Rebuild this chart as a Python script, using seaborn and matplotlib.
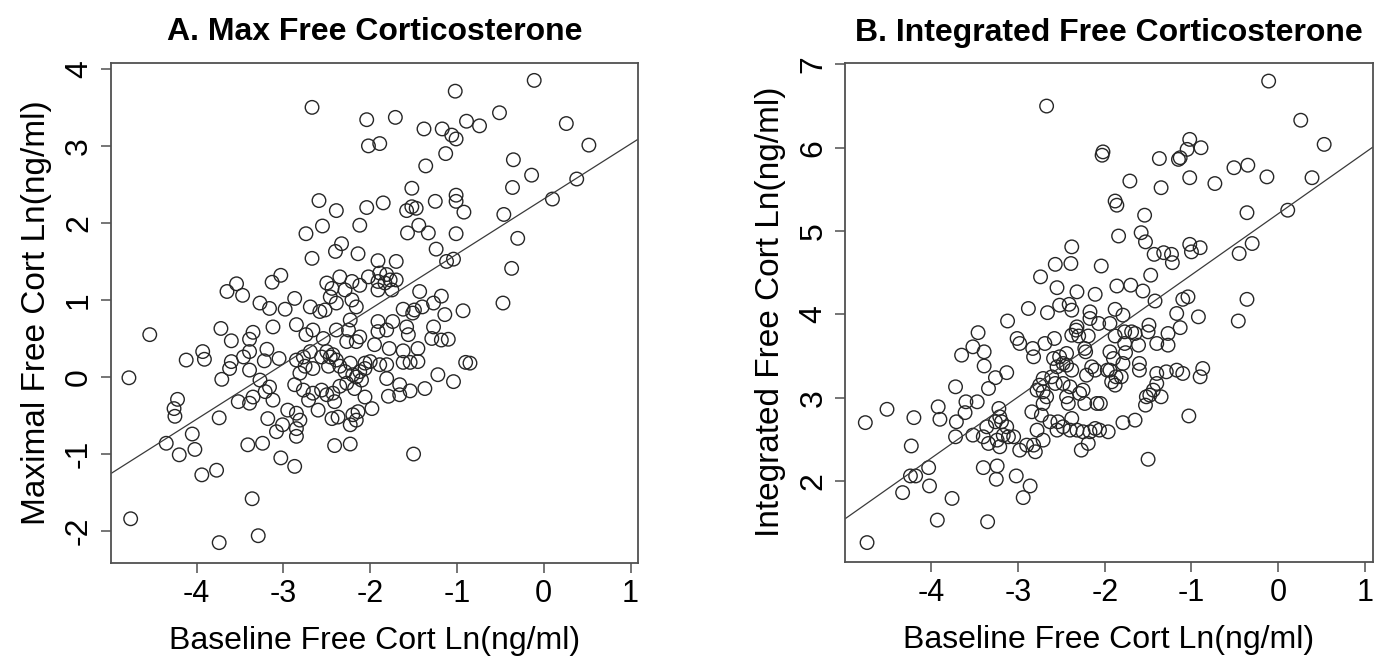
import numpy as np
import pandas as pd
import seaborn as sns
from matplotlib import pyplot as plt

# Panel A: baseline vs maximal free corticosterone, Ln(ng/ml)
max_x = [-2.67, -2.04, -2.02, -1.89, -2.59, -2.39, -2.04,
         -3.03, -3.13, -3.54, -3.65, -3.47, -3.27, -3.16, -2.98,
         -0.11, -1.02, -1.71, -1.38, -1.17, -1.06, -1.01, -0.89, -0.74, -0.51, 0.26, 0.52,
         -1.13, -1.36, -0.35, -0.14, 0.38, 0.10, -0.36, -0.46, -0.30, -0.37, -0.47,
         -1.52, -1.85, -1.58, -1.52, -1.47, -1.25, -1.01, -1.01, -0.92,
         -4.54, -4.78, -4.76, -3.74, -3.29, -3.36, -3.94, -3.77, -4.35, -4.20, -4.02, -4.05,
         -4.22, -4.26, -4.25, -3.74, -4.12, -3.93, -3.91, -3.72, -3.60, -3.71, -3.62, -3.60,
         -3.52, -3.39, -3.39, -3.46, -3.39, -3.35, -3.19, -3.22, -3.05, -3.12, -3.27, -3.16,
         -3.21, -3.12, -3.35, -3.39, -3.18, -3.08, -3.41, -3.24, -3.03, -2.87, -2.95, -3.01, -2.85,
         -1.50,
         -2.74, -2.55, -2.12, -1.57, -1.44, -1.33, -1.01, -1.24, -2.40, -2.33, -2.67, -2.14,
         -1.91, -1.70, -1.12, -1.04,
         -1.89, -1.81, -1.77, -1.91, -1.83, -1.70, -1.75, -1.91,
         -2.50, -2.35, -2.21, -2.02, -2.12,
         -2.44, -2.46, -2.29, -2.21, -2.16, -2.39, -2.52,
         -2.87, -2.69, -2.58,
         -1.43, -1.18, -1.49, -1.40, -1.51, -1.27, -1.62, -1.14, -0.93,
         -2.85, -2.74, -2.66, -2.54, -2.39, -2.23, -2.25,
         -1.91, -1.74, -1.81, -1.91, -1.58, -1.56, -1.27, -1.29, -1.18, -1.10,
         -2.27, -2.16, -2.12, -1.95, -1.78,
         -1.62, -1.45, -1.45, -1.54, -1.62, -0.90, -0.85,
         -1.22, -1.04, -1.37, -1.54, -1.66, -1.66, -1.79,
         -1.81, -1.89, -1.81, -2.00, -2.06, -2.16,
         -2.85, -2.77, -2.69, -2.75, -2.81, -2.66, -2.56, -2.50, -2.46, -2.43, -2.39, -2.48,
         -2.35, -2.29, -2.23, -2.20, -2.12, -2.06, -2.27, -2.18, -2.10, -2.87, -2.77, -2.71,
         -2.66, -2.56, -2.50, -2.43, -2.35, -2.41, -2.60, -2.85, -2.81, -2.85, -2.44, -2.37,
         -2.20, -2.14, -2.16, -2.23, -1.98, -2.06, -2.41, -2.23]
max_y = [3.50, 3.34, 3.00, 3.03, 2.29, 2.16, 2.20,
         1.32, 1.23, 1.21, 1.11, 1.06, 0.96, 0.89, 0.88,
         3.85, 3.71, 3.37, 3.22, 3.22, 3.14, 3.09, 3.32, 3.26, 3.43, 3.29, 3.01,
         2.90, 2.74, 2.82, 2.62, 2.57, 2.31, 2.46, 2.11, 1.80, 1.41, 0.96,
         2.45, 2.26, 2.16, 2.21, 2.19, 2.28, 2.36, 2.28, 2.14,
         0.55, -0.01, -1.84, -2.15, -2.06, -1.58, -1.27, -1.21, -0.86, -1.01, -0.94, -0.74,
         -0.29, -0.41, -0.51, -0.53, 0.22, 0.33, 0.23, 0.63, 0.47, -0.03, 0.11, 0.20,
         -0.32, 0.09, 0.33, 0.26, 0.49, 0.58, 0.36, 0.21, 0.24, 0.65, -0.04, -0.13,
         -0.19, -0.30, -0.26, -0.34, -0.54, -0.71, -0.88, -0.86, -1.05, -1.16, -0.43, -0.62, -0.77,
         -1.00,
         1.86, 1.96, 1.97, 1.87, 1.97, 1.87, 1.86, 1.66, 1.63, 1.73, 1.54, 1.60,
         1.51, 1.50, 1.50, 1.53,
         1.35, 1.33, 1.26, 1.24, 1.22, 1.26, 1.13, 1.13,
         1.22, 1.30, 1.24, 1.30, 1.19,
         1.15, 1.04, 1.13, 1.00, 0.91, 0.96, 0.87,
         1.02, 0.91, 0.85,
         1.11, 1.05, 0.87, 0.91, 0.83, 0.96, 0.88, 0.81, 0.86,
         0.68, 0.55, 0.61, 0.50, 0.61, 0.74, 0.61,
         0.72, 0.72, 0.61, 0.59, 0.65, 0.55, 0.65, 0.50, 0.48, 0.49,
         0.46, 0.46, 0.52, 0.42, 0.37,
         0.34, 0.37, 0.20, 0.19, 0.19, 0.19, 0.18,
         0.03, -0.06, -0.15, -0.18, -0.10, -0.23, -0.25,
         -0.02, 0.16, 0.16, 0.20, 0.11, 0.00,
         0.22, 0.26, 0.33, 0.14, 0.05, 0.11, 0.26, 0.33, 0.26, 0.29, 0.22, 0.14,
         0.14, 0.07, 0.18, 0.03, 0.07, 0.18, -0.08, -0.15, -0.04, -0.10, -0.17, -0.30,
         -0.21, -0.17, -0.23, -0.21, -0.12, -0.32, -0.43, -0.47, -0.56, -0.67, -0.54, -0.52,
         -0.49, -0.45, -0.56, -0.62, -0.41, -0.26, -0.89, -0.87]

# Panel B: baseline vs integrated free corticosterone, Ln(ng/ml)
int_x = [-2.67, -2.02, -2.03,
         -0.11, 0.26, 0.53, -1.02, -1.05, -0.89, -1.15, -1.13, -1.37, -1.71, -1.35, -1.02,
         -0.73, -0.51, -0.35, -0.13, 0.39, -1.88, -1.86, -1.54, -0.36, 0.11, -0.30, -0.45, -0.36,
         -0.46,
         -1.84, -1.58, -1.53, -1.43, -1.32, -1.23, -1.22, -1.02, -0.90, -1.00, -2.38, -2.57,
         -2.39, -2.74, -2.04, -2.55, -2.32, -2.11, -1.47, -1.86, -1.70, -1.56, -1.42, -1.10,
         -1.04, -2.88, -2.66, -2.52, -2.41, -2.38, -2.17, -2.17, -1.88, -1.79, -2.07, -1.94,
         -2.32, -2.33, -2.30, -2.38, -2.19, -1.77, -1.69, -1.65, -1.88, -1.49, -1.50, -3.01,
         -2.98, -2.83, -2.82, -2.69, -2.58, -2.23, -2.22, -1.94, -1.90, -1.77, -1.76, -1.61,
         -1.40, -1.27, -1.27, -1.13, -1.17, -0.92,
         -2.59, -2.52, -2.44, -2.48, -2.55, -2.44, -2.38, -2.71, -2.61, -2.75, -2.78, -2.71,
         -2.67, -2.57, -2.48, -2.40, -2.84, -2.71, -2.44, -2.29, -2.25, -2.23, -2.09, -2.05,
         -2.21, -2.11, -2.15, -1.97, -1.94, -1.87, -1.92, -1.88, -1.81, -1.79, -1.60, -1.60,
         -1.40, -1.29, -1.17, -1.10, -0.87, -0.90, -1.40, -1.44, -1.48, -1.52, -1.35, -1.53,
         -1.79, -1.65, -1.03, -1.50,
         -3.05, -2.98, -2.90, -2.82, -2.80, -2.71, -2.78, -2.63, -2.54, -2.48, -2.38, -2.40,
         -2.32, -2.25, -2.17, -2.11, -2.06, -1.96, -2.27, -2.19, -2.55, -2.42, -2.73,
         -3.12, -3.46, -3.52, -3.39, -3.65, -3.39, -3.26, -3.13, -3.34, -3.72, -3.60, -3.47,
         -3.61, -3.71, -3.72, -3.92, -3.90, -4.20, -4.51, -4.76, -4.23, -4.03, -4.24, -4.18,
         -4.33, -4.02, -3.76, -3.93, -3.35, -4.74, -3.40, -3.24, -3.25, -3.02, -2.86, -2.94,
         -3.52, -3.36, -3.40, -3.34, -3.22, -3.21, -3.26, -3.19, -3.13, -3.17, -3.11, -3.24,
         -3.21]
int_y = [6.50, 5.95, 5.91,
         6.80, 6.33, 6.04, 6.10, 5.98, 6.00, 5.86, 5.88, 5.87, 5.60, 5.52, 5.64,
         5.57, 5.76, 5.79, 5.65, 5.64, 5.36, 5.31, 5.19, 5.22, 5.25, 4.85, 4.73, 4.18,
         3.92,
         4.94, 4.98, 4.87, 4.72, 4.74, 4.72, 4.62, 4.84, 4.80, 4.75, 4.81, 4.60,
         4.61, 4.45, 4.58, 4.32, 4.27, 4.24, 4.47, 4.34, 4.35, 4.28, 4.16, 4.18,
         4.21, 4.07, 4.02, 4.11, 4.12, 4.05, 4.03, 3.95, 4.06, 3.99, 3.89, 3.89,
         3.85, 3.81, 3.74, 3.75, 3.74, 3.79, 3.79, 3.77, 3.74, 3.87, 3.79, 3.71,
         3.65, 3.59, 3.49, 3.65, 3.71, 3.59, 3.55, 3.55, 3.47, 3.65, 3.54, 3.63,
         3.65, 3.63, 3.77, 3.84, 4.01, 3.97,
         3.47, 3.49, 3.53, 3.41, 3.37, 3.39, 3.33, 3.23, 3.25, 3.15, 3.09, 3.07,
         3.01, 3.17, 3.17, 3.13, 2.83, 2.93, 3.01, 3.05, 3.09, 2.93, 2.93, 2.93,
         3.27, 3.33, 3.37, 3.33, 3.33, 3.25, 3.19, 3.15, 3.25, 3.41, 3.33, 3.41,
         3.29, 3.31, 3.33, 3.29, 3.35, 3.25, 3.17, 3.09, 3.03, 3.01, 3.01, 2.91,
         2.70, 2.73, 2.78, 2.26,
         2.53, 2.37, 2.43, 2.43, 2.35, 2.49, 2.61, 2.71, 2.71, 2.65, 2.75, 2.61,
         2.61, 2.59, 2.59, 2.63, 2.61, 2.59, 2.37, 2.45, 2.61, 2.93, 2.79,
         3.92, 3.78, 3.61, 3.55, 3.51, 3.38, 3.24, 3.30, 3.11, 3.13, 2.95, 2.95,
         2.82, 2.71, 2.53, 2.89, 2.74, 2.76, 2.86, 2.70, 2.42, 2.16, 2.06, 2.06,
         1.86, 1.94, 1.79, 1.53, 1.51, 1.26, 2.16, 2.18, 2.02, 2.06, 1.94, 1.80,
         2.55, 2.65, 2.53, 2.45, 2.87, 2.77, 2.71, 2.71, 2.65, 2.55, 2.53, 2.49,
         2.41]

titles = ['A. Max Free Corticosterone', 'B. Integrated Free Corticosterone']
ylabels = ['Maximal Free Cort Ln(ng/ml)', 'Integrated Free Cort Ln(ng/ml)']
xlabel = 'Baseline Free Cort Ln(ng/ml)'

sns.set_style("white")
plt.rcParams['font.family'] = ['Liberation Sans', 'DejaVu Sans']
plt.rcParams['axes.unicode_minus'] = False
plt.rcParams['text.color'] = 'black'
plt.rcParams['axes.labelcolor'] = 'black'
plt.rcParams['xtick.color'] = 'black'
plt.rcParams['ytick.color'] = 'black'

fig = plt.figure(figsize=(13.82, 6.64), dpi=100)
ax1 = fig.add_axes([0.0801, 0.1526, 0.3818, 0.753])
ax2 = fig.add_axes([0.6117, 0.1540, 0.3816, 0.7515])


def panel(ax, x, y, ylim, yticks, title, ylabel):
    df = pd.DataFrame({'baseline': x, 'response': y})
    ax.set_xlim(-4.99, 1.09)
    ax.set_ylim(*ylim)
    sns.scatterplot(data=df, x='baseline', y='response', ax=ax, marker='o', s=95,
                    facecolors='none', edgecolor='#262626', linewidth=1.0)
    sns.regplot(data=df, x='baseline', y='response', ax=ax, scatter=False, ci=None,
                truncate=False, line_kws={'color': '#3a3a3a', 'lw': 0.9})
    ax.set_xlim(-4.99, 1.09)
    ax.set_ylim(*ylim)
    ax.set_xticks(range(-4, 2))
    ax.set_yticks(yticks)
    ax.tick_params(axis='both', direction='out', length=7, width=1.1, color='#505050',
                   bottom=True, left=True, pad=5)
    ax.tick_params(axis='x', labelsize=22)
    ax.tick_params(axis='y', labelsize=23, labelrotation=90)
    for lab in ax.get_yticklabels():
        lab.set_va('center')
    for sp in ax.spines.values():
        sp.set_visible(True)
        sp.set_color('#505050')
        sp.set_linewidth(1.3)
    ax.set_title(title, fontsize=23, fontweight='bold', pad=16)
    ax.set_xlabel(xlabel, fontsize=23, labelpad=12)
    ax.set_ylabel(ylabel, fontsize=24, labelpad=9)


panel(ax1, max_x, max_y, (-2.41, 4.08), range(-2, 5), titles[0], ylabels[0])
panel(ax2, int_x, int_y, (1.03, 7.02), range(2, 8), titles[1], ylabels[1])

fig.savefig('out.png', dpi=100)
